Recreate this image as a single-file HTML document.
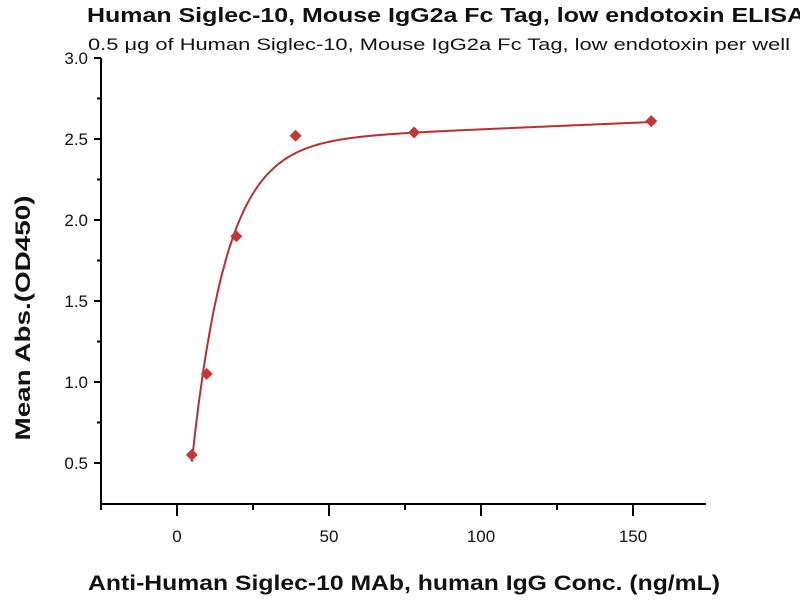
<!DOCTYPE html>
<html><head><meta charset="utf-8"><style>
body{margin:0;background:#fff;}
svg{display:block;font-family:"Liberation Sans",sans-serif;}
</style></head><body>
<svg id="s" width="800" height="600" viewBox="0 0 800 600">
<text x="87" y="22" font-size="20" font-weight="bold" fill="#111" textLength="718" lengthAdjust="spacingAndGlyphs">Human Siglec-10, Mouse IgG2a Fc Tag, low endotoxin ELISA</text>
<text x="88" y="50" font-size="17" fill="#111" textLength="702" lengthAdjust="spacingAndGlyphs">0.5 μg of Human Siglec-10, Mouse IgG2a Fc Tag, low endotoxin per well</text>
<g stroke="#000" stroke-width="2" fill="none" id="ax">
<line x1="101" y1="58" x2="101" y2="505"/>
<line x1="100" y1="504" x2="706" y2="504"/>
</g>
<g font-size="17" fill="#111" text-anchor="end" id="yl"></g>
<g font-size="17" fill="#111" text-anchor="middle" id="xl"></g>
<text transform="translate(30,318) rotate(-90)" font-size="21" font-weight="bold" text-anchor="middle" fill="#111" textLength="245" lengthAdjust="spacingAndGlyphs">Mean Abs.(OD450)</text>
<text x="88" y="590" font-size="21" font-weight="bold" fill="#111" textLength="632" lengthAdjust="spacingAndGlyphs">Anti-Human Siglec-10 MAb, human IgG Conc. (ng/mL)</text>
<polyline id="c" fill="none" stroke="#b5302f" stroke-width="2"/>
<g id="pts" fill="#c0393a"></g>
</svg>
<script>
var ns="http://www.w3.org/2000/svg",s=document.getElementById('s');
function X(x){return 177+3.04*x}function Y(v){return 58+(3-v)*162}
function el(t,a,p,txt){var e=document.createElementNS(ns,t);for(var k in a)e.setAttribute(k,a[k]);if(txt)e.textContent=txt;(p||s).appendChild(e);return e}
var ax=document.getElementById('ax');
for(var v=0.5;v<=3.001;v+=0.25){var y=Y(v),maj=Math.abs(v*2-Math.round(v*2))<1e-6;
el('line',{x1:maj?94:97,y1:y,x2:101,y2:y},ax);
if(maj)el('text',{x:88,y:y+6},document.getElementById('yl'),v.toFixed(1));}
for(var x=-25;x<=150;x+=25){var px=X(x),maj=x%50==0;
el('line',{x1:px,y1:504,x2:px,y2:maj?516:510},ax);
if(maj)el('text',{x:px,y:542},document.getElementById('xl'),String(x));}
var pts=[];for(var x=4.88;x<=156.3;x+=0.5){var v=2.48*(1-Math.exp(-0.088*(x-2.3)))+0.0008*x;pts.push(X(x).toFixed(1)+','+Y(v).toFixed(1));}
document.getElementById('c').setAttribute('points',pts.join(' '));
[[4.88,0.55],[9.77,1.05],[19.5,1.90],[39,2.52],[78,2.54],[156,2.61]].forEach(function(d){var px=X(d[0]),py=Y(d[1]);
el('polygon',{points:(px)+','+(py-6)+' '+(px+6)+','+py+' '+px+','+(py+6)+' '+(px-6)+','+py},document.getElementById('pts'));});
</script>
</body></html>
